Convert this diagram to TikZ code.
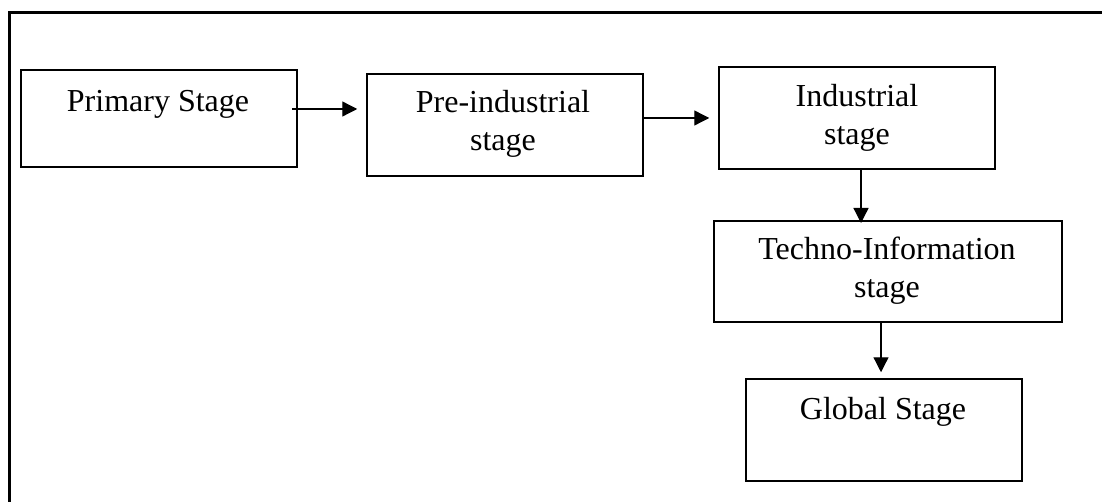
\documentclass[tikz,border=0pt]{standalone}
\usepackage{fontspec}
\setmainfont{Liberation Serif}
\usetikzlibrary{arrows.meta}
\begin{document}
\begin{tikzpicture}[x=1pt,y=-1pt,
  stagebox/.style={draw,line width=1.5pt,inner sep=0pt},
  stagetext/.style={anchor=base,align=center,inner sep=0pt,font=\fontsize{32}{38}\selectfont},
  flow/.style={line width=1.3pt,-{Triangle[length=15pt,width=15pt]}}]
\useasboundingbox (0,0) rectangle (1102,502);
\draw[line width=3pt] (9.5,502) -- (9.5,12.5) -- (1102,12.5);
% boxes
\node[stagebox,minimum width=276pt,minimum height=97pt] (b1) at (159,118.5) {};
\node[stagebox,minimum width=276pt,minimum height=102pt] (b2) at (505,125) {};
\node[stagebox,minimum width=276pt,minimum height=102pt] (b3) at (857,118) {};
\node[stagebox,minimum width=348pt,minimum height=101pt] (b4) at (888,271.5) {};
\node[stagebox,minimum width=276pt,minimum height=102pt] (b5) at (884,430) {};
% texts (base = baseline of last line)
\node[stagetext] (t1) at (158,111.5) {Primary Stage};
\node[stagetext] (t2) at (503,151) {Pre-industrial\\stage};
\node[stagetext] (t3) at (857,144.5) {Industrial\\stage};
\node[stagetext] (t4) at (887,298) {Techno-Information\\stage};
\node[stagetext] (t5) at (883,419) {Global Stage};
% connectors
\coordinate (a1s) at (292,109);
\draw[flow] (a1s) -- ([xshift=-9pt]b2.west |- a1s);
\draw[flow] (b2.east |- 0,118) -- ([xshift=-9pt]b3.west |- 0,118);
\draw[flow] (b3.south -| 861,0) -- (861,223);
\draw[flow] (b4.south -| 881,0) -- ([yshift=6pt]b5.north -| 881,0);
\end{tikzpicture}
\end{document}
